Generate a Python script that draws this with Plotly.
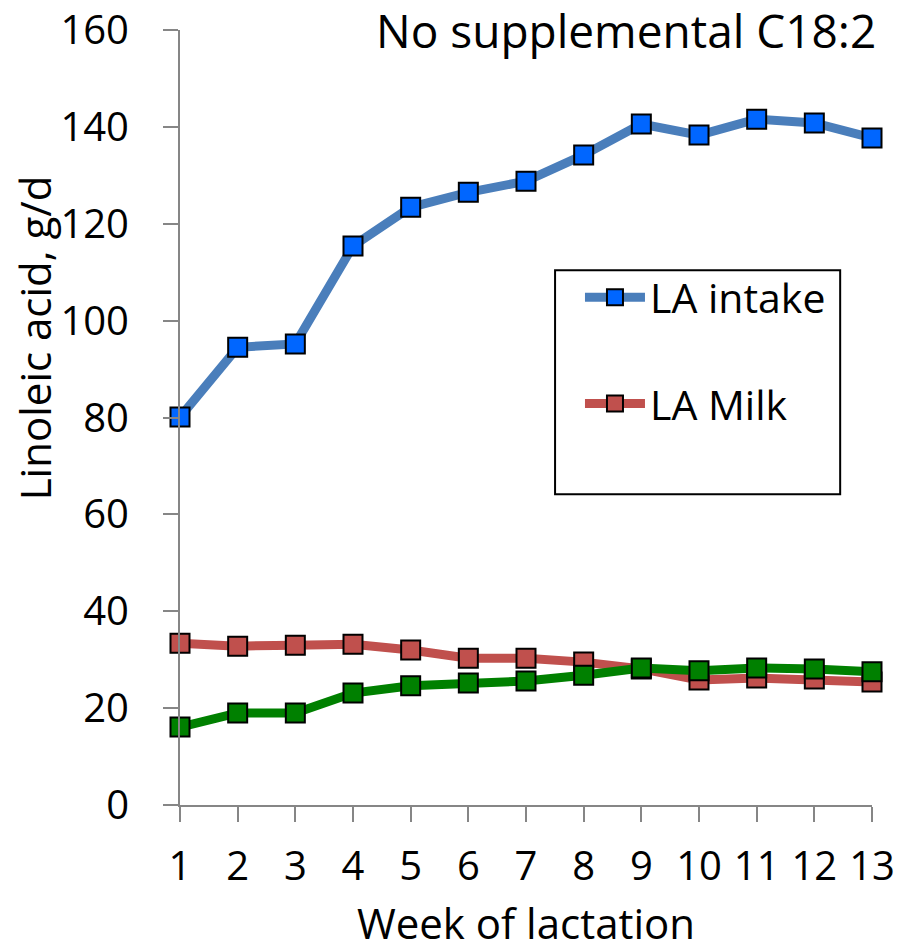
import plotly.graph_objects as go

weeks = list(range(1, 14))
la_intake = [80.1, 94.5, 95.2, 115.4, 123.4, 126.5, 128.8, 134.2, 140.6, 138.3, 141.6, 140.8, 137.7]
la_milk = [33.4, 32.8, 33.0, 33.2, 32.0, 30.3, 30.3, 29.5, 28.1, 25.8, 26.2, 26.0, 25.4]
la_other = [16.1, 19.0, 19.0, 23.1, 24.6, 25.2, 25.6, 26.8, 28.3, 27.7, 28.3, 28.1, 27.5]

FONT = "Open Sans"
AXIS_GRAY = "#868686"

fig = go.Figure()

series = [
    ("LA intake", la_intake, "#4A7EBB", "#0066FF", True),
    ("LA Milk", la_milk, "#C0504D", "#C0504D", True),
    ("LA other", la_other, "#008000", "#008000", False),
]
for i, (name, vals, line_c, mark_c, show) in enumerate(series):
    fig.add_trace(go.Scatter(
        x=weeks, y=vals, name=name, mode="lines+markers",
        line=dict(color=line_c, width=9),
        marker=dict(symbol="square", size=19, color=mark_c,
                    line=dict(color="black", width=2)),
        showlegend=show, legendgroup=f"g{i}", cliponaxis=False,
    ))

fig.update_layout(
    width=898, height=951,
    margin=dict(l=180, r=26, t=30, b=146, autoexpand=False),
    paper_bgcolor="white", plot_bgcolor="white",
    font=dict(family=FONT, size=40, color="black"),
    showlegend=True,
    legend=dict(
        x=0.578, y=0.698, xanchor="left", yanchor="top",
        bgcolor="rgba(0,0,0,0)", borderwidth=0,
        font=dict(family=FONT, size=41, color="black"),
        traceorder="grouped", tracegroupgap=50,
        itemsizing="trace", itemwidth=60,
    ),
    xaxis=dict(
        range=[1, 13], tickvals=weeks, ticktext=[str(w) for w in weeks],
        showgrid=False, zeroline=False, automargin=False,
        showline=True, linecolor=AXIS_GRAY, linewidth=2,
        ticks="outside", ticklen=15, tickwidth=2, tickcolor=AXIS_GRAY,
        tickfont=dict(family=FONT, size=40),
        ticklabelstandoff=10, ticklabeloverflow="allow",
        title=dict(text="Week of lactation", font=dict(family=FONT, size=42), standoff=26),
    ),
    yaxis=dict(
        range=[0, 160], dtick=20,
        showgrid=False, zeroline=False, automargin=False,
        showline=True, linecolor=AXIS_GRAY, linewidth=2,
        ticks="outside", ticklen=15, tickwidth=2, tickcolor=AXIS_GRAY,
        tickfont=dict(family=FONT, size=40),
        ticklabelstandoff=26, ticklabeloverflow="allow",
    ),
    shapes=[dict(
        type="rect", xref="paper", yref="paper",
        x0=0.542, x1=0.954, y0=0.401, y1=0.69,
        line=dict(color="black", width=2), fillcolor="rgba(0,0,0,0)",
    )],
    annotations=[
        dict(text="No supplemental C18:2", xref="paper", yref="paper",
             x=1.008, y=1.0, xanchor="right", yanchor="middle",
             showarrow=False, font=dict(family=FONT, size=46)),
        dict(text="Linoleic acid, g/d", xref="paper", yref="paper",
             x=-0.21, y=0.603, xanchor="center", yanchor="middle", textangle=-90,
             showarrow=False, font=dict(family=FONT, size=42)),
    ],
)

fig.write_html("out.html")
